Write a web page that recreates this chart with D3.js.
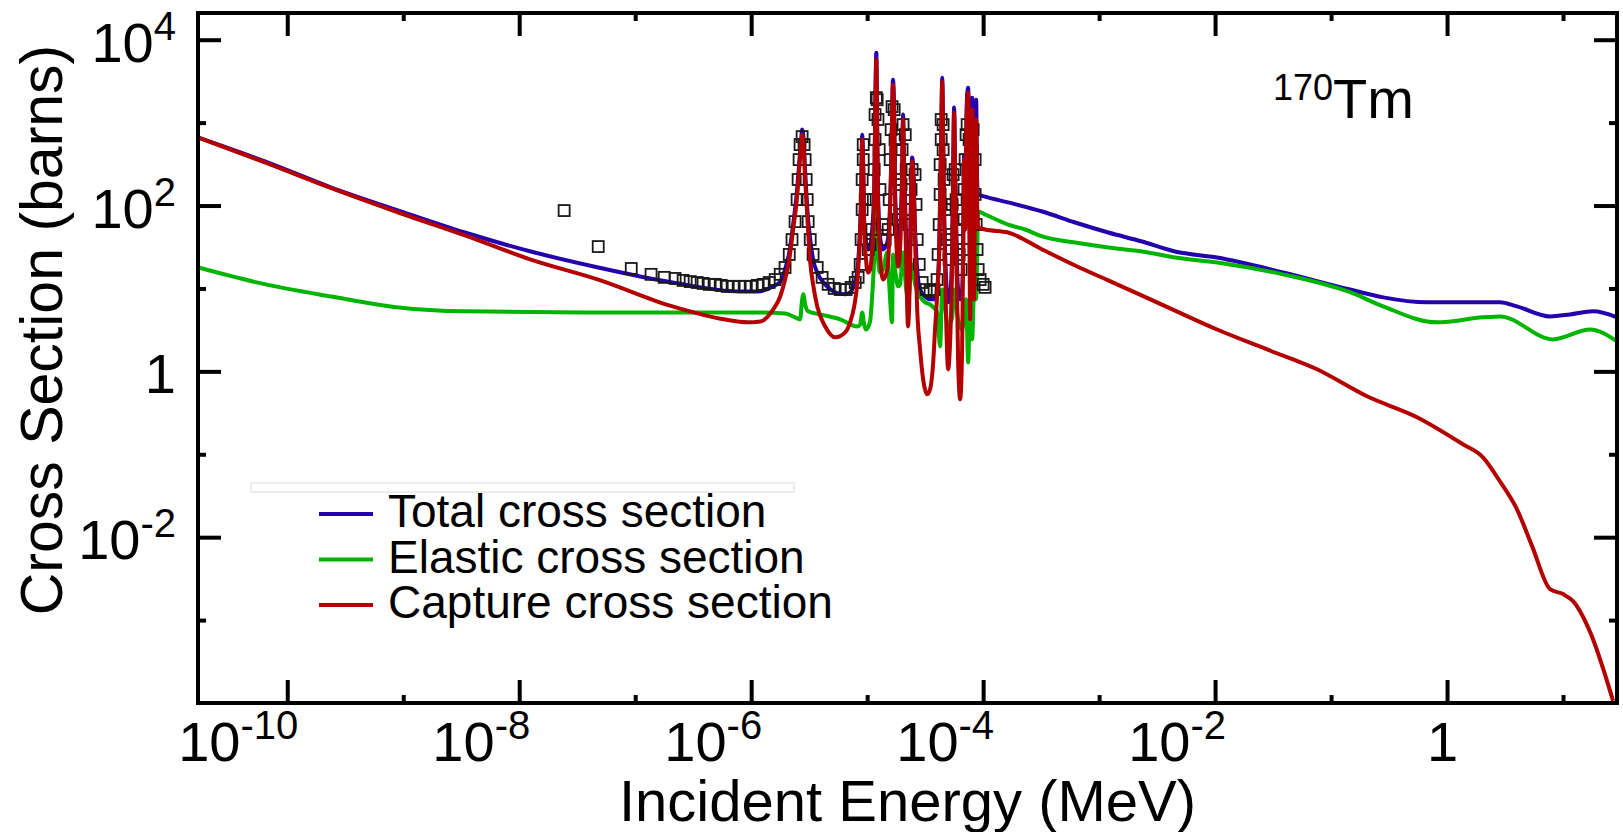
<!DOCTYPE html>
<html>
<head>
<meta charset="utf-8">
<script src="https://cdn.jsdelivr.net/npm/d3@7"></script>
<style>
  body { margin: 0; background: #fff; }
  svg { display: block; font-family: 'Liberation Sans', Arial, sans-serif; }
</style>
</head>
<body>
<div id="chart-area"></div>
<script>
// [energy (MeV), cross section (barns)]
const totalXS = [
  [1.71e-11, 660], [6.5e-11, 339], [2.4e-10, 165], [9.1e-10, 87], [3.4e-9, 47.3], [1.26e-8, 27.9],
  [4.8e-8, 17.9], [2.1e-7, 11.8], [8.0e-7, 9.2], [1.13e-6, 9.2], [1.55e-6, 10.6], [1.78e-6, 12.1],
  [1.96e-6, 16.9], [2.13e-6, 27.2], [2.30e-6, 59], [2.49e-6, 156], [2.59e-6, 312], [2.70e-6, 624],
  [2.75e-6, 824], [2.81e-6, 716], [2.92e-6, 260], [3.04e-6, 94.6], [3.23e-6, 38.9], [3.42e-6, 22.3],
  [3.71e-6, 15.6], [4.35e-6, 11.2], [5.30e-6, 9.0], [6.46e-6, 8.5], [7.13e-6, 9.0], [7.73e-6, 11.2],
  [8.20e-6, 15.6], [8.53e-6, 32], [8.87e-6, 136], [9.06e-6, 716], [9.25e-6, 312], [9.42e-6, 67.8],
  [9.79e-6, 35.8], [1.02e-5, 29.5], [1.06e-5, 32], [1.10e-5, 47.3], [1.15e-5, 156], [1.17e-5, 946],
  [1.20e-5, 6960], [1.22e-5, 946], [1.24e-5, 156], [1.29e-5, 42.4], [1.37e-5, 29.5], [1.49e-5, 35.8],
  [1.55e-5, 59], [1.61e-5, 312], [1.64e-5, 1250], [1.67e-5, 3300], [1.71e-5, 1250], [1.74e-5, 156],
  [1.82e-5, 42.4], [1.85e-5, 35.8], [1.92e-5, 47.3], [2.00e-5, 236], [2.04e-5, 1250], [2.08e-5, 312],
  [2.17e-5, 38.9], [2.25e-5, 19.5], [2.35e-5, 38.9], [2.39e-5, 136], [2.44e-5, 379], [2.49e-5, 312],
  [2.59e-5, 51.4], [2.70e-5, 16.9], [2.86e-5, 9.7], [3.16e-5, 8.0], [3.49e-5, 7.4], [3.85e-5, 7.4],
  [4.01e-5, 9.7], [4.18e-5, 29.5], [4.26e-5, 136], [4.35e-5, 716], [4.44e-5, 3480], [4.52e-5, 716],
  [4.61e-5, 89.5], [4.80e-5, 12.8], [4.99e-5, 6.8], [5.20e-5, 8.5], [5.41e-5, 29.5], [5.51e-5, 236],
  [5.62e-5, 1520], [5.74e-5, 236], [5.97e-5, 16.9], [6.08e-5, 9.7], [6.34e-5, 7.4], [6.59e-5, 9.7],
  [6.73e-5, 33.9], [6.85e-5, 411], [7.00e-5, 89.5], [7.13e-5, 624], [7.28e-5, 2170], [7.43e-5, 2640],
  [7.57e-5, 473], [7.73e-5, 22.3], [7.89e-5, 206], [8.04e-5, 2000], [8.20e-5, 1090], [8.36e-5, 22.3],
  [8.53e-5, 824], [8.71e-5, 1890], [8.87e-5, 206], [9.06e-5, 136], [1.04e-4, 128], [1.64e-4, 109],
  [3.23e-4, 84.7], [6.21e-4, 62.4], [1.20e-3, 47.3], [2.35e-3, 36.8], [4.52e-3, 27.9], [1.04e-2, 23.6],
  [3.85e-2, 15.6], [0.146, 9.7], [0.281, 7.8], [0.673, 6.8], [1.37, 6.8], [2.86, 6.8], [4.01, 6.07],
  [7.73, 4.6], [11.5, 4.86], [18.2, 5.3], [29.2, 4.48]
]

const elasticXS = [
  [1.71e-11, 17.9], [6.5e-11, 11.2], [2.4e-10, 8.0], [9.1e-10, 5.9], [3.4e-9, 5.3], [4.8e-8, 5.14],
  [9.8e-7, 5.14], [1.96e-6, 5.0], [2.39e-6, 4.48], [2.64e-6, 4.24], [2.75e-6, 7.4], [2.81e-6, 8.5],
  [2.92e-6, 6.4], [3.10e-6, 5.3], [3.94e-6, 4.86], [5.85e-6, 4.24], [8.20e-6, 3.48], [8.71e-6, 3.68],
  [9.06e-6, 5.14], [9.42e-6, 3.68], [9.79e-6, 3.2], [1.06e-5, 4.0], [1.10e-5, 7.4], [1.15e-5, 22.3],
  [1.20e-5, 94.6], [1.22e-5, 38.9], [1.29e-5, 15.6], [1.37e-5, 16.9], [1.49e-5, 27.2], [1.55e-5, 11.2],
  [1.64e-5, 3.9], [1.67e-5, 25.7], [1.74e-5, 16.9], [1.85e-5, 10.6], [1.92e-5, 11.2], [2.04e-5, 27.2],
  [2.17e-5, 9.7], [2.25e-5, 7.4], [2.44e-5, 19.5], [2.59e-5, 11.2], [2.86e-5, 8.0], [3.16e-5, 6.8],
  [3.49e-5, 6.4], [4.01e-5, 5.14], [4.26e-5, 2.0], [4.44e-5, 9.7], [4.61e-5, 7.4], [4.99e-5, 3.48],
  [5.41e-5, 4.48], [5.62e-5, 9.7], [6.08e-5, 4.24], [6.59e-5, 3.2], [7.13e-5, 7.4], [7.43e-5, 1.28],
  [7.73e-5, 7.4], [8.04e-5, 2.43], [8.36e-5, 9.7], [8.71e-5, 7.4], [9.06e-5, 84.7], [1.04e-4, 78],
  [1.64e-4, 59], [2.30e-4, 51.4], [3.23e-4, 42.4], [6.21e-4, 35.8], [1.20e-3, 31.2], [2.35e-3, 27.9],
  [4.52e-3, 23.6], [1.04e-2, 20.6], [3.85e-2, 14.8], [0.146, 9.0], [0.281, 6.07], [0.82, 3.9],
  [2.04, 4.48], [2.86, 4.6], [8.20, 2.43], [17.1, 3.2], [29.2, 2.30]
]

const captureXS = [
  [1.71e-11, 660], [6.5e-11, 330], [2.4e-10, 162], [9.1e-10, 82.4], [3.4e-9, 43.6], [1.26e-8, 22.3],
  [4.8e-8, 12.8], [2.1e-7, 6.07], [5.8e-7, 4.24], [9.3e-7, 3.9], [1.20e-6, 4.0], [1.55e-6, 5.6],
  [1.78e-6, 8.0], [1.96e-6, 12.8], [2.13e-6, 22.3], [2.30e-6, 51.4], [2.49e-6, 128], [2.59e-6, 272],
  [2.70e-6, 543], [2.75e-6, 716], [2.81e-6, 624], [2.92e-6, 206], [3.04e-6, 78], [3.23e-6, 20.6],
  [3.42e-6, 11.2], [3.71e-6, 6.07], [4.35e-6, 3.48], [5.30e-6, 2.57], [6.46e-6, 2.95], [7.13e-6, 3.9],
  [7.73e-6, 6.07], [8.20e-6, 11.2], [8.53e-6, 27.2], [8.87e-6, 118], [9.06e-6, 624], [9.25e-6, 272],
  [9.42e-6, 51.4], [9.79e-6, 22.3], [1.02e-5, 15.6], [1.06e-5, 16.9], [1.10e-5, 27.2], [1.15e-5, 118],
  [1.17e-5, 824], [1.20e-5, 5740], [1.22e-5, 824], [1.24e-5, 118], [1.29e-5, 27.2], [1.37e-5, 12.8],
  [1.49e-5, 16.9], [1.55e-5, 38.9], [1.61e-5, 272], [1.64e-5, 1090], [1.67e-5, 2870], [1.71e-5, 1090],
  [1.74e-5, 118], [1.82e-5, 22.3], [1.85e-5, 18.4], [1.92e-5, 29.5], [2.00e-5, 206], [2.04e-5, 1090],
  [2.08e-5, 272], [2.17e-5, 22.3], [2.25e-5, 3.48], [2.35e-5, 22.3], [2.39e-5, 118], [2.44e-5, 339],
  [2.49e-5, 272], [2.59e-5, 38.9], [2.70e-5, 5.6], [2.86e-5, 1.84], [3.04e-5, 0.80], [3.29e-5, 0.53],
  [3.49e-5, 0.61], [3.71e-5, 1.28], [3.85e-5, 3.2], [4.01e-5, 8.0], [4.18e-5, 27.2], [4.26e-5, 118],
  [4.35e-5, 624], [4.44e-5, 3120], [4.52e-5, 624], [4.61e-5, 67.8], [4.80e-5, 4.24], [4.99e-5, 1.06],
  [5.20e-5, 2.43], [5.41e-5, 22.3], [5.51e-5, 206], [5.62e-5, 1320], [5.74e-5, 206], [5.97e-5, 7.4],
  [6.08e-5, 1.40], [6.34e-5, 0.46], [6.59e-5, 1.84], [6.73e-5, 29.5], [6.85e-5, 358], [7.00e-5, 51.4],
  [7.13e-5, 473], [7.28e-5, 1890], [7.43e-5, 2300], [7.57e-5, 206], [7.73e-5, 4.24], [7.89e-5, 118],
  [8.04e-5, 1435], [8.20e-5, 624], [8.36e-5, 7.4], [8.53e-5, 473], [8.71e-5, 1090], [8.87e-5, 118],
  [9.06e-5, 54.3], [1.04e-4, 51.4], [1.64e-4, 47.3], [3.23e-4, 29.5], [6.21e-4, 18.9], [1.20e-3, 12.5],
  [2.35e-3, 8.2], [4.52e-3, 5.4], [1.04e-2, 3.2], [2.81e-2, 1.84], [7.57e-2, 1.06], [0.204, 0.50],
  [0.551, 0.28], [1.37, 0.132], [2.04, 0.092], [2.86, 0.047], [4.01, 0.0217], [5.41, 0.0078],
  [7.73, 0.00236], [10.0, 0.00206], [12.2, 0.00169], [17.1, 0.00072], [27.0, 0.000106]
]

// measured total cross section (open squares)
const measuredXS = [
  [2.44e-8, 87], [4.80e-8, 32], [9.25e-8, 17.4], [1.37e-7, 14.8], [1.78e-7, 13.6], [2.21e-7, 13.2],
  [2.59e-7, 12.5], [2.98e-7, 12.1], [3.42e-7, 11.8], [3.85e-7, 11.5], [4.35e-7, 11.2], [4.90e-7, 11.2],
  [5.51e-7, 10.9], [6.21e-7, 10.6], [7.00e-7, 10.6], [7.89e-7, 10.6], [8.87e-7, 10.6], [1.0e-6, 10.6],
  [1.13e-6, 10.9], [1.27e-6, 11.2], [1.43e-6, 11.8], [1.61e-6, 12.8], [1.78e-6, 14.8], [1.96e-6, 17.9],
  [2.13e-6, 25.7], [2.25e-6, 38.9], [2.39e-6, 64], [2.49e-6, 118], [2.54e-6, 206], [2.59e-6, 358],
  [2.64e-6, 543], [2.75e-6, 678], [2.86e-6, 543], [2.92e-6, 358], [2.98e-6, 206], [3.04e-6, 118],
  [3.10e-6, 64], [3.23e-6, 38.9], [3.42e-6, 25.7], [3.71e-6, 17.9], [4.09e-6, 13.6], [4.61e-6, 11.2],
  [5.20e-6, 10.0], [5.85e-6, 9.7], [6.59e-6, 9.7], [7.28e-6, 10.3], [7.89e-6, 11.8], [8.36e-6, 13.6],
  [8.71e-6, 19.5], [8.87e-6, 38.9], [9.06e-6, 89.5], [9.06e-6, 206], [9.25e-6, 358], [9.25e-6, 543],
  [9.62e-6, 118], [9.79e-6, 38.9], [1.02e-5, 29.5], [1.06e-5, 33.9], [1.10e-5, 51.4], [1.13e-5, 118],
  [1.15e-5, 272], [1.17e-5, 624], [1.17e-5, 1250], [1.20e-5, 2000], [1.22e-5, 1890], [1.24e-5, 1090],
  [1.27e-5, 473], [1.29e-5, 156], [1.35e-5, 59], [1.43e-5, 38.9], [1.52e-5, 51.4], [1.55e-5, 118],
  [1.58e-5, 358], [1.61e-5, 824], [1.64e-5, 1560], [1.71e-5, 1435], [1.74e-5, 624], [1.78e-5, 206],
  [1.85e-5, 67.8], [1.92e-5, 78], [1.96e-5, 179], [2.00e-5, 473], [2.04e-5, 946], [2.13e-5, 716],
  [2.17e-5, 272], [2.21e-5, 89.5], [2.30e-5, 59], [2.39e-5, 156], [2.44e-5, 272], [2.59e-5, 236],
  [2.64e-5, 103], [2.70e-5, 38.9], [2.81e-5, 19.5], [2.98e-5, 11.8], [3.23e-5, 9.7], [3.49e-5, 9.2],
  [3.78e-5, 9.7], [4.01e-5, 12.8], [4.09e-5, 25.7], [4.18e-5, 59], [4.26e-5, 136], [4.26e-5, 312],
  [4.35e-5, 624], [4.35e-5, 1090], [4.52e-5, 946], [4.52e-5, 473], [4.61e-5, 206], [4.70e-5, 89.5],
  [4.90e-5, 38.9], [5.09e-5, 22.3], [5.30e-5, 44.8], [5.41e-5, 103], [5.51e-5, 236], [5.74e-5, 272],
  [5.85e-5, 118], [5.97e-5, 51.4], [6.21e-5, 25.7], [6.46e-5, 16.9], [6.73e-5, 29.5], [6.85e-5, 67.8],
  [6.85e-5, 156], [7.00e-5, 358], [7.13e-5, 716], [7.28e-5, 946], [7.57e-5, 624], [7.73e-5, 312],
  [7.89e-5, 179], [8.04e-5, 473], [8.20e-5, 824], [8.53e-5, 358], [8.53e-5, 136], [8.71e-5, 59],
  [8.87e-5, 29.5], [9.06e-5, 16.9], [9.42e-5, 12.8], [1.0e-4, 11.2], [1.04e-4, 10.3]
]

const xTicksMajor = [1e-10, 1e-8, 1e-6, 1e-4, 1e-2, 1]
const xTicksMinor = [1e-9, 1e-7, 1e-5, 1e-3, 1e-1, 10]
const yTicksMajor = [1e4, 1e2, 1, 1e-2]
const yTicksMinor = [1e3, 10, 1e-1, 1e-3]

const seriesNames = ['Total cross section', 'Elastic cross section', 'Capture cross section']
const seriesColors = ['#2500ad', '#00b400', '#b40000']

const width = 1623
const height = 832
const margin = { top: 13, right: 6, bottom: 129, left: 198 }
const plotW = width - margin.left - margin.right
const plotH = height - margin.top - margin.bottom

const svg = d3.select('#chart-area')
  .append('svg')
    .attr('width', width)
    .attr('height', height)

const g = svg.append('g')
  .attr('transform', `translate(${margin.left}, ${margin.top})`)

const x = d3.scaleLog()
  .domain([1.7e-11, 29.2])
  .range([0, plotW])

const y = d3.scaleLog()
  .domain([1e-4, 2.1e4])
  .range([plotH, 0])

g.append('clipPath')
  .attr('id', 'clip')
  .append('rect')
    .attr('width', plotW)
    .attr('height', plotH)

const line = d3.line()
  .x(d => x(d[0]))
  .y(d => y(d[1]))
  .curve(d3.curveMonotoneX)

const plot = g.append('g').attr('clip-path', 'url(#clip)')

plot.append('path')
  .datum(totalXS)
  .attr('d', line)
  .attr('fill', 'none')
  .attr('stroke', seriesColors[0])
  .attr('stroke-width', 4)
  .attr('stroke-linejoin', 'round')

plot.append('path')
  .datum(elasticXS)
  .attr('d', line)
  .attr('fill', 'none')
  .attr('stroke', seriesColors[1])
  .attr('stroke-width', 4)
  .attr('stroke-linejoin', 'round')

const sq = 11
plot.selectAll('rect.exp').data(measuredXS).enter()
  .append('rect')
    .attr('class', 'exp')
    .attr('x', d => x(d[0]) - sq / 2)
    .attr('y', d => y(d[1]) - sq / 2)
    .attr('width', sq)
    .attr('height', sq)
    .attr('fill', 'none')
    .attr('stroke', '#1a1a1a')
    .attr('stroke-width', 1.8)

plot.append('path')
  .datum(captureXS)
  .attr('d', line)
  .attr('fill', 'none')
  .attr('stroke', seriesColors[2])
  .attr('stroke-width', 4)
  .attr('stroke-linejoin', 'round')

// ticks on all four sides, pointing inward
const tickStyle = sel => {
  sel.select('.domain').remove()
  sel.selectAll('.tick line').attr('stroke', '#000').attr('stroke-width', 4)
  sel.selectAll('.tick text').remove()
}

g.append('g').attr('transform', `translate(0, ${plotH})`)
  .call(d3.axisBottom(x).tickValues(xTicksMajor).tickSize(-23)).call(tickStyle)
g.append('g').attr('transform', `translate(0, ${plotH})`)
  .call(d3.axisBottom(x).tickValues(xTicksMinor).tickSize(-8)).call(tickStyle)
g.append('g')
  .call(d3.axisTop(x).tickValues(xTicksMajor).tickSize(-23)).call(tickStyle)
g.append('g')
  .call(d3.axisTop(x).tickValues(xTicksMinor).tickSize(-8)).call(tickStyle)
g.append('g')
  .call(d3.axisLeft(y).tickValues(yTicksMajor).tickSize(-23)).call(tickStyle)
g.append('g')
  .call(d3.axisLeft(y).tickValues(yTicksMinor).tickSize(-8)).call(tickStyle)
g.append('g').attr('transform', `translate(${plotW}, 0)`)
  .call(d3.axisRight(y).tickValues(yTicksMajor).tickSize(-23)).call(tickStyle)
g.append('g').attr('transform', `translate(${plotW}, 0)`)
  .call(d3.axisRight(y).tickValues(yTicksMinor).tickSize(-8)).call(tickStyle)

g.append('rect')
  .attr('width', plotW)
  .attr('height', plotH)
  .attr('fill', 'none')
  .attr('stroke', '#000')
  .attr('stroke-width', 4)

const powerLabel = (sel, v) => {
  const e = Math.round(Math.log10(v))
  if (e === 0) {
    sel.text('1')
    return
  }
  sel.append('tspan').text('10')
  sel.append('tspan').attr('dy', -22).attr('font-size', 40).text(e)
}

xTicksMajor.forEach(v => {
  g.append('text')
    .attr('x', x(v) + 11)
    .attr('y', plotH + 58)
    .attr('text-anchor', 'end')
    .attr('font-size', 56)
    .call(powerLabel, v)
})

yTicksMajor.forEach(v => {
  g.append('text')
    .attr('x', -22)
    .attr('y', y(v) + 22)
    .attr('text-anchor', 'end')
    .attr('font-size', 56)
    .call(powerLabel, v)
})

svg.append('text')
  .attr('x', margin.left + plotW / 2)
  .attr('y', 821)
  .attr('text-anchor', 'middle')
  .attr('font-size', 58)
  .text('Incident Energy (MeV)')

svg.append('text')
  .attr('transform', 'translate(62, 330) rotate(-90)')
  .attr('text-anchor', 'middle')
  .attr('font-size', 59)
  .text('Cross Section (barns)')

// nucleus label
const nuc = svg.append('text')
  .attr('x', 1273)
  .attr('y', 118)
  .attr('font-size', 56)
nuc.append('tspan').attr('dy', -18).attr('font-size', 36).text('170')
nuc.append('tspan').attr('dy', 18).text('Tm')

// legend
svg.append('rect')
  .attr('x', 251)
  .attr('y', 483)
  .attr('width', 543)
  .attr('height', 9)
  .attr('fill', 'none')
  .attr('stroke', '#e2e2e2')
  .attr('stroke-width', 1.2)

const legend = svg.append('g')
  .attr('transform', 'translate(319, 514)')

seriesNames.forEach((name, i) => {
  legend.append('line')
    .attr('x1', 0)
    .attr('x2', 54)
    .attr('y1', i * 45.5)
    .attr('y2', i * 45.5)
    .attr('stroke', seriesColors[i])
    .attr('stroke-width', 4)
  legend.append('text')
    .attr('x', 69)
    .attr('y', i * 45.5 + 13)
    .attr('font-size', 46)
    .text(name)
})
</script>
</body>
</html>
